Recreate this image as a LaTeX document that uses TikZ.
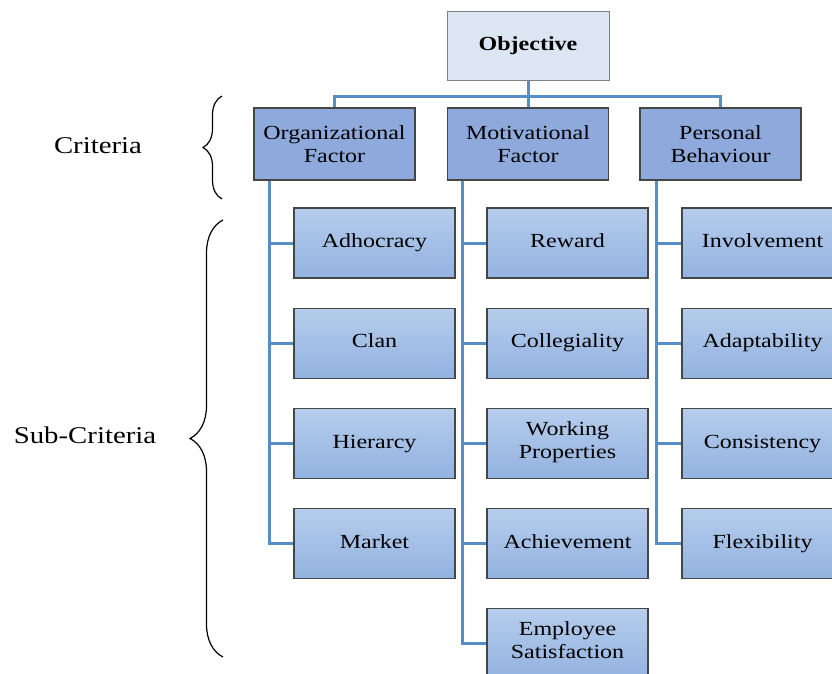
\documentclass[tikz,border=0pt]{standalone}
\usepackage{fontspec}
\setmainfont{Liberation Serif}[FakeStretch=1.2]
\usetikzlibrary{positioning, decorations.pathreplacing}
\definecolor{objfill}{RGB}{220,230,242}
\definecolor{critfill}{RGB}{142,169,219}
\definecolor{subtop}{RGB}{182,205,236}
\definecolor{subbot}{RGB}{146,178,224}
\definecolor{linkblue}{RGB}{88,142,198}
\definecolor{edge}{RGB}{70,70,70}

\begin{document}
\begin{tikzpicture}[
   x=1pt, y=-1pt, node distance=29pt,
   obj/.style={draw=gray, line width=1pt, fill=objfill, minimum width=162pt,
               minimum height=69pt, font=\fontsize{20}{23}\selectfont\bfseries},
   crit/.style={draw=edge, line width=1.2pt, fill=critfill, align=center, minimum width=161pt,
               minimum height=72pt, font=\fontsize{20}{23}\selectfont},
   sub/.style={draw=edge, line width=1.2pt, top color=subtop, bottom color=subbot, align=center,
               minimum width=161pt, minimum height=70pt, font=\fontsize{20}{23}\selectfont,
               execute at begin node=\strut, execute at end node=\strut},
   link/.style={draw=linkblue, line width=3pt},
   lab/.style={font=\fontsize{24}{28}\selectfont},
   curly/.style={decorate, line width=1.2pt}]
  \useasboundingbox (0,0) rectangle (832,673);
  \clip (0,0) rectangle (832,673);

  \node[obj] (obj) at (528,45.5) {Objective};
  \node[crit] (mot) at (528,144) {Motivational\\Factor};
  \node[crit] (org) at (334.5,144) {Organizational\\Factor};
  \node[crit] (pers) at (720.5,144) {Personal\\Behaviour};

  % organizational column
  \node[sub] (adh) at (374.5,243) {Adhocracy};
  \node[sub, below=of adh] (clan) {Clan};
  \node[sub, below=of clan] (hier) {Hierarcy};
  \node[sub, below=of hier] (market) {Market};

  % motivational column
  \node[sub] (reward) at (567.5,243) {Reward};
  \node[sub, below=of reward] (coll) {Collegiality};
  \node[sub, below=of coll] (work) {Working\\Properties};
  \node[sub, below=of work] (achieve) {Achievement};
  \node[sub, below=of achieve] (satis) {Employee\\Satisfaction};

  % personal column
  \node[sub] (invol) at (762.5,243) {Involvement};
  \node[sub, below=of invol] (adapt) {Adaptability};
  \node[sub, below=of adapt] (consis) {Consistency};
  \node[sub, below=of consis] (flex) {Flexibility};

  \draw[link] (obj.south) -- (mot.north);
  \draw[link] (org.north) |- (obj.south |- 0,96) -| (pers.north);

  \foreach \s in {adh,clan,hier,market}
    \draw[link] ([xshift=16pt]org.south west) |- (\s.west);
  \foreach \s in {reward,coll,work,achieve,satis}
    \draw[link] ([xshift=16pt]mot.south west) |- (\s.west);
  \foreach \s in {invol,adapt,consis,flex}
    \draw[link] ([xshift=17pt]pers.south west) |- (\s.west);

  % braces and level names
  \node[lab] (crit) at (98,146) {Criteria};
  \node[lab] (subcrit) at (85,435) {Sub-Criteria};
  \coordinate (cb1) at (222,199);
  \coordinate (cb2) at (222,96);
  \coordinate (sb1) at (223,657);
  \coordinate (sb2) at (223,220);
  \draw[curly, decoration={brace, amplitude=19pt}] (cb1) -- (cb2);
  \draw[curly, decoration={brace, amplitude=33pt}] (sb1) -- (sb2);
\end{tikzpicture}
\end{document}
